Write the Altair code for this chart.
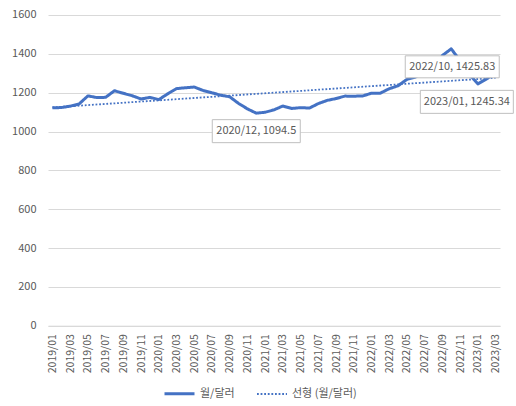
import json
import altair as alt
import pandas as pd

# Monthly average KRW per USD, 2019/01 - 2023/03
months = [
    "2019/01", "2019/02", "2019/03", "2019/04", "2019/05", "2019/06",
    "2019/07", "2019/08", "2019/09", "2019/10", "2019/11", "2019/12",
    "2020/01", "2020/02", "2020/03", "2020/04", "2020/05", "2020/06",
    "2020/07", "2020/08", "2020/09", "2020/10", "2020/11", "2020/12",
    "2021/01", "2021/02", "2021/03", "2021/04", "2021/05", "2021/06",
    "2021/07", "2021/08", "2021/09", "2021/10", "2021/11", "2021/12",
    "2022/01", "2022/02", "2022/03", "2022/04", "2022/05", "2022/06",
    "2022/07", "2022/08", "2022/09", "2022/10", "2022/11", "2022/12",
    "2023/01", "2023/02", "2023/03",
]
rates = [
    1122.0, 1123.4, 1130.5, 1141.6, 1183.3, 1175.0,
    1175.9, 1209.9, 1196.7, 1184.1, 1167.5, 1175.8,
    1164.3, 1193.8, 1220.8, 1225.3, 1229.0, 1211.4,
    1199.1, 1187.0, 1178.8, 1144.7, 1116.6, 1094.5,
    1099.1, 1111.6, 1131.2, 1118.8, 1122.9, 1120.8,
    1143.7, 1160.3, 1169.6, 1182.3, 1181.9, 1182.9,
    1197.4, 1197.6, 1220.3, 1235.6, 1268.4, 1281.3,
    1307.0, 1318.5, 1391.6, 1425.83, 1364.3, 1296.2,
    1245.34, 1270.8, 1305.6,
]
y_ticks = [0, 200, 400, 600, 800, 1000, 1200, 1400, 1600]

SERIES = "월/달러"
TREND = "선형 (월/달러)"
BLUE = "#4472C4"
GREY_TEXT = "#595959"
GRID = "#D9D9D9"
FONT = "Noto Sans CJK KR"

df = pd.DataFrame({"idx": range(len(months)), "month": months, "rate": rates})
df["series"] = SERIES
df["label"] = df["month"] + ", " + df["rate"].map(lambda v: f"{v:g}")

month_js = json.dumps(months)
x_enc = alt.X(
    "idx:Q",
    scale=alt.Scale(domain=[-0.5, len(months) - 0.5], nice=False, zero=False),
    axis=alt.Axis(
        values=list(range(0, len(months), 2)),
        labelExpr=f"{month_js}[datum.value]",
        labelAngle=270,
        labelFontSize=10.5,
        labelColor=GREY_TEXT,
        labelPadding=8,
        labelFont=FONT,
        labelOverlap=False,
        labelBound=False,
        labelFlush=False,
        grid=False,
        ticks=False,
        domainColor=GRID,
        title=None,
    ),
)
y_enc = alt.Y(
    "rate:Q",
    scale=alt.Scale(domain=[0, 1600], nice=False),
    axis=alt.Axis(
        values=y_ticks,
        format="d",
        labelFontSize=11,
        labelColor=GREY_TEXT,
        labelPadding=12,
        labelFont=FONT,
        labelOverlap=False,
        labelFlush=False,
        grid=True,
        gridColor=GRID,
        domain=False,
        ticks=False,
        title=None,
    ),
)

series_scale = dict(domain=[SERIES, TREND])
color = alt.Color("series:N", scale=alt.Scale(range=[BLUE, BLUE], **series_scale), title=None)
dash = alt.StrokeDash("series:N", scale=alt.Scale(range=[[1, 0], [1.8, 1.8]], **series_scale), title=None)
width = alt.StrokeWidth("series:N", scale=alt.Scale(range=[3, 1.8], **series_scale), title=None)

base = alt.Chart(df)

line = base.mark_line(strokeJoin="round").encode(
    x=x_enc, y=y_enc, color=color, strokeDash=dash, strokeWidth=width
)

trend = (
    base.transform_regression("idx", "rate", method="linear")
    .transform_calculate(series=f"'{TREND}'")
    .mark_line(strokeCap="butt")
    .encode(x=x_enc, y=y_enc, color=color, strokeDash=dash, strokeWidth=width)
)

# Boxed data labels for selected months: (month, box width, box height, dx, dy)
callouts = [
    ("2020/12", 88, 23, 0, 18),
    ("2022/10", 94, 22, 1, 18),
    ("2023/01", 93, 23, -11, 18),
]
label_layers = []
for m, bw, bh, dx, dy in callouts:
    sub = base.transform_filter(alt.datum.month == m)
    r = bh / bw
    box = sub.mark_point(
        shape=f"M-1,{-r}L1,{-r}L1,{r}L-1,{r}Z",
        size=bw * bw,
        filled=True,
        fill="white",
        stroke="#BFBFBF",
        strokeWidth=1,
        opacity=1,
        xOffset=dx,
        yOffset=dy,
    ).encode(x=x_enc, y=y_enc)
    txt = sub.mark_text(
        fontSize=11, font=FONT, color=GREY_TEXT, dx=dx, dy=dy, baseline="middle"
    ).encode(x=x_enc, y=y_enc, text="label:N")
    label_layers += [box, txt]

chart = (
    alt.layer(trend, line, *label_layers)
    .properties(
        width=452,
        height=310.7,
        autosize=alt.AutoSizeParams(type="none"),
        padding={"left": 48, "top": 15, "right": 16, "bottom": 80},
    )
    .configure_view(stroke=None)
    .configure_legend(
        orient="none",
        legendX=115,
        legendY=362,
        direction="horizontal",
        symbolType="stroke",
        symbolSize=900,
        labelFontSize=11,
        labelFont=FONT,
        labelColor=GREY_TEXT,
        labelOffset=4,
        columnPadding=18,
    )
)

chart.save("out.html", embed_options={"renderer": "svg", "actions": False})
